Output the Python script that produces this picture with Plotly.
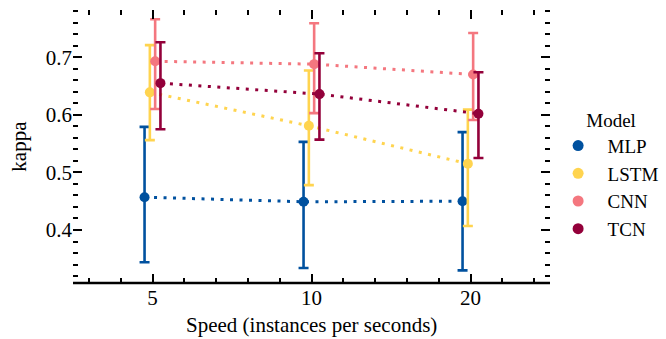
import numpy as np
import plotly.graph_objects as go

speeds = ["5", "10", "20"]
models = ["MLP", "LSTM", "CNN", "TCN"]
colors = ["#00519f", "#ffd44f", "#f4777f", "#93003a"]

kappa_mean = {
    "MLP":  [0.457, 0.449, 0.450],
    "LSTM": [0.639, 0.581, 0.515],
    "CNN":  [0.693, 0.688, 0.670],
    "TCN":  [0.655, 0.636, 0.602],
}
kappa_low = {
    "MLP":  [0.344, 0.334, 0.330],
    "LSTM": [0.556, 0.478, 0.407],
    "CNN":  [0.610, 0.603, 0.591],
    "TCN":  [0.575, 0.557, 0.525],
}
kappa_high = {
    "MLP":  [0.579, 0.553, 0.570],
    "LSTM": [0.721, 0.677, 0.609],
    "CNN":  [0.766, 0.759, 0.742],
    "TCN":  [0.726, 0.707, 0.674],
}

x_title = "Speed (instances per seconds)"
y_title = "kappa"
legend_title = "Model"

FONT = "Liberation Serif, Times New Roman, serif"
FS = 21
LFS = 19
dodge = 0.1
offsets = np.linspace(-dodge / 2, dodge / 2, len(models))
base = np.arange(len(speeds))

fig = go.Figure()
for m, c, off in zip(models, colors, offsets):
    mean = np.array(kappa_mean[m])
    lo = np.array(kappa_low[m])
    hi = np.array(kappa_high[m])
    fig.add_trace(go.Scatter(
        x=base + off, y=mean, mode="lines+markers",
        line=dict(color=c, width=3, dash="3px,6.5px"),
        marker=dict(color=c, size=10, line=dict(width=0)),
        error_y=dict(type="data", array=hi - mean, arrayminus=mean - lo,
                     color=c, thickness=2.6, width=5),
        showlegend=False, name=m,
    ))
for m, c in zip(models, colors):
    fig.add_trace(go.Scatter(
        x=[None], y=[None], mode="markers", name="\u2002" + m, legendgroup=m,
        marker=dict(color=c, size=11),
    ))

fig.update_layout(
    width=666, height=339,
    margin=dict(l=73, r=116, t=10, b=56, autoexpand=False),
    paper_bgcolor="white", plot_bgcolor="white",
    font=dict(family=FONT, size=FS, color="black"),
    legend=dict(
        title=dict(text=legend_title, font=dict(family=FONT, size=LFS), side="top center"),
        xref="container", yref="container",
        x=0.838, xanchor="left", y=0.699, yanchor="top",
        font=dict(family=FONT, size=LFS), itemwidth=30,
        tracegroupgap=0,
    ),
    xaxis=dict(
        range=[-0.5, 2.5], tickmode="array", tickvals=list(base), ticktext=speeds,
        ticks="inside", ticklen=9, tickwidth=2, tickcolor="black",
        mirror="ticks", showline=False, showgrid=False, zeroline=False,
        automargin=False,
        minor=dict(tick0=-0.4, dtick=0.2, ticks="inside", ticklen=5,
                   tickwidth=2, tickcolor="black", showgrid=False),
        tickfont=dict(family=FONT, size=FS),
    ),
    yaxis=dict(
        range=[0.308, 0.782], tickvals=[0.4, 0.5, 0.6, 0.7],
        ticktext=["0.4", "0.5", "0.6", "0.7"],
        ticks="inside", ticklen=9, tickwidth=2, tickcolor="black",
        mirror="ticks", showline=False, showgrid=False, zeroline=False,
        automargin=False,
        minor=dict(tick0=0.3, dtick=0.02, ticks="inside", ticklen=5,
                   tickwidth=2, tickcolor="black", showgrid=False),
        tickfont=dict(family=FONT, size=FS),
    ),
    shapes=[dict(type="line", xref="paper", yref="paper", x0=0, x1=1, y0=0, y1=0,
                 line=dict(color="black", width=2.5))],
    annotations=[
        dict(text=x_title, xref="paper", yref="paper", x=0.5, y=-0.155,
             xanchor="center", yanchor="middle", showarrow=False,
             font=dict(family=FONT, size=FS)),
        dict(text=y_title, xref="paper", yref="paper", x=-0.115, y=0.5,
             xanchor="center", yanchor="middle", textangle=-90, showarrow=False,
             font=dict(family=FONT, size=FS)),
    ],
)

fig.write_html("out.html", config={"displayModeBar": False},
               post_script="document.body.style.margin='0px';document.body.style.padding='0px';")
